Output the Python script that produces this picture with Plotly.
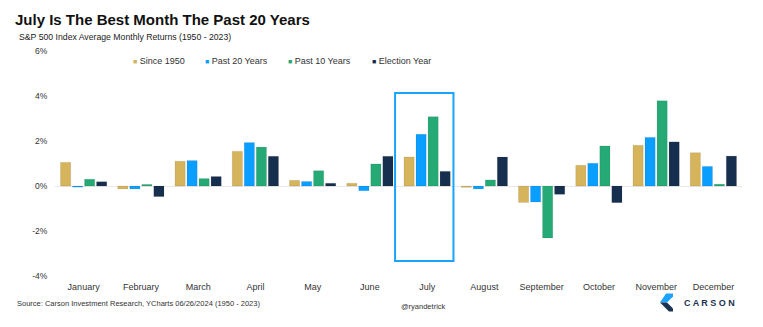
import plotly.graph_objects as go

# S&P 500 average monthly returns (%)
months = ["January", "February", "March", "April", "May", "June", "July",
          "August", "September", "October", "November", "December"]
since_1950 = [1.05, -0.13, 1.10, 1.54, 0.25, 0.12, 1.29, -0.06, -0.73, 0.92, 1.81, 1.48]
past_20 = [-0.05, -0.13, 1.13, 1.93, 0.20, -0.21, 2.30, -0.13, -0.71, 1.01, 2.16, 0.87]
past_10 = [0.30, 0.07, 0.33, 1.73, 0.68, 0.98, 3.08, 0.27, -2.31, 1.78, 3.79, 0.08]
election_year = [0.19, -0.47, 0.42, 1.32, 0.12, 1.32, 0.65, 1.29, -0.37, -0.74, 1.96, 1.33]

series_names = ["Since 1950", "Past 20 Years", "Past 10 Years", "Election Year"]
series_values = [since_1950, past_20, past_10, election_year]
series_colors = ["#D5B45C", "#0A9FFF", "#25AA75", "#172F4E"]

y_ticks = [-4, -2, 0, 2, 4, 6]

W, H = 763, 327
L, R, T, B = 55, 21, 51, 51
FONT = "Liberation Sans, Arial, sans-serif"


def px_x(px):
    return (px - L) / (W - L - R)


def px_y(py):
    return (H - B - py) / (H - T - B)


fig = go.Figure()
for name, vals, col in zip(series_names, series_values, series_colors):
    fig.add_trace(go.Bar(
        x=months, y=vals, name=name, marker_color=col,
        marker_line=dict(color="rgba(0,0,0,0.10)", width=0.8),
        showlegend=False,
    ))

# July highlight box
fig.add_shape(type="rect", xref="x", yref="y", x0=5.44, x1=6.46, y0=-3.33, y1=4.13,
              line=dict(color="#1AA3FF", width=2), fillcolor="rgba(0,0,0,0)")

annotations = []
# Legend row
legend_x = [131, 203, 286, 370]
for name, col, lx in zip(series_names, series_colors, legend_x):
    annotations.append(dict(
        xref="paper", yref="paper", x=px_x(lx), y=px_y(61), xanchor="left", yanchor="middle",
        text=f"<span style='color:{col};font-size:7px'>■</span> {name}",
        showarrow=False, font=dict(family=FONT, size=9, color="#333333"),
    ))

# Subtitle
annotations.append(dict(
    xref="paper", yref="paper", x=px_x(17), y=px_y(37), xanchor="left", yanchor="middle",
    text="S&P 500 Index Average Monthly Returns (1950 - 2023)", showarrow=False,
    font=dict(family=FONT, size=8.7, color="#222222"),
))
# Footer
annotations.append(dict(
    xref="paper", yref="paper", x=px_x(15), y=px_y(303), xanchor="left", yanchor="middle",
    text="Source: Carson Investment Research, YCharts 06/26/2024 (1950 - 2023)",
    showarrow=False, font=dict(family=FONT, size=7.5, color="#333333"),
))
annotations.append(dict(
    xref="paper", yref="paper", x=px_x(423), y=px_y(306), xanchor="center", yanchor="middle",
    text="@ryandetrick", showarrow=False, font=dict(family=FONT, size=7.5, color="#333333"),
))
annotations.append(dict(
    xref="paper", yref="paper", x=px_x(682), y=px_y(302.5), xanchor="left", yanchor="middle",
    text="<b>C A R S O N</b>", showarrow=False, font=dict(family=FONT, size=9, color="#1B3350"),
))

# Carson chevron mark
def path(points):
    return "M " + " L ".join(f"{px_x(a):.5f},{px_y(b):.5f}" for a, b in points) + " Z"


shapes_logo = [
    dict(type="path", xref="paper", yref="paper",
         path=path([(666, 293.5), (673, 293.5), (673, 296.5), (667, 302.5), (660, 302.5)]),
         fillcolor="#1AA3FF", line=dict(width=0)),
    dict(type="path", xref="paper", yref="paper",
         path=path([(660, 302.5), (667, 302.5), (673, 308.5), (673, 311.5), (669, 311.5)]),
         fillcolor="#1B3350", line=dict(width=0)),
]
for s in shapes_logo:
    fig.add_shape(**s)

fig.update_layout(
    width=W, height=H,
    margin=dict(l=L, r=R, t=T, b=B),
    paper_bgcolor="white", plot_bgcolor="white",
    barmode="group", bargap=0.16, bargroupgap=0.15,
    title=dict(text="<b>July Is The Best Month The Past 20 Years</b>",
               xref="container", yref="container", x=15 / W, y=1 - 20 / H,
               xanchor="left", yanchor="middle",
               font=dict(family=FONT, size=15, color="#111111")),
    annotations=annotations,
    font=dict(family=FONT),
)
fig.update_xaxes(
    showgrid=False, showline=False, ticks="outside", ticklen=2,
    tickcolor="rgba(0,0,0,0)", tickfont=dict(family=FONT, size=9, color="#333333"),
)
fig.update_yaxes(
    range=[-4, 6], tickvals=y_ticks, ticktext=[f"{v}%" for v in y_ticks],
    showgrid=False, zeroline=True, zerolinecolor="#E8E8E8", zerolinewidth=1,
    ticks="outside", ticklen=5, tickcolor="rgba(0,0,0,0)",
    tickfont=dict(family=FONT, size=8.5, color="#333333"),
)

fig.write_html("out.html")
